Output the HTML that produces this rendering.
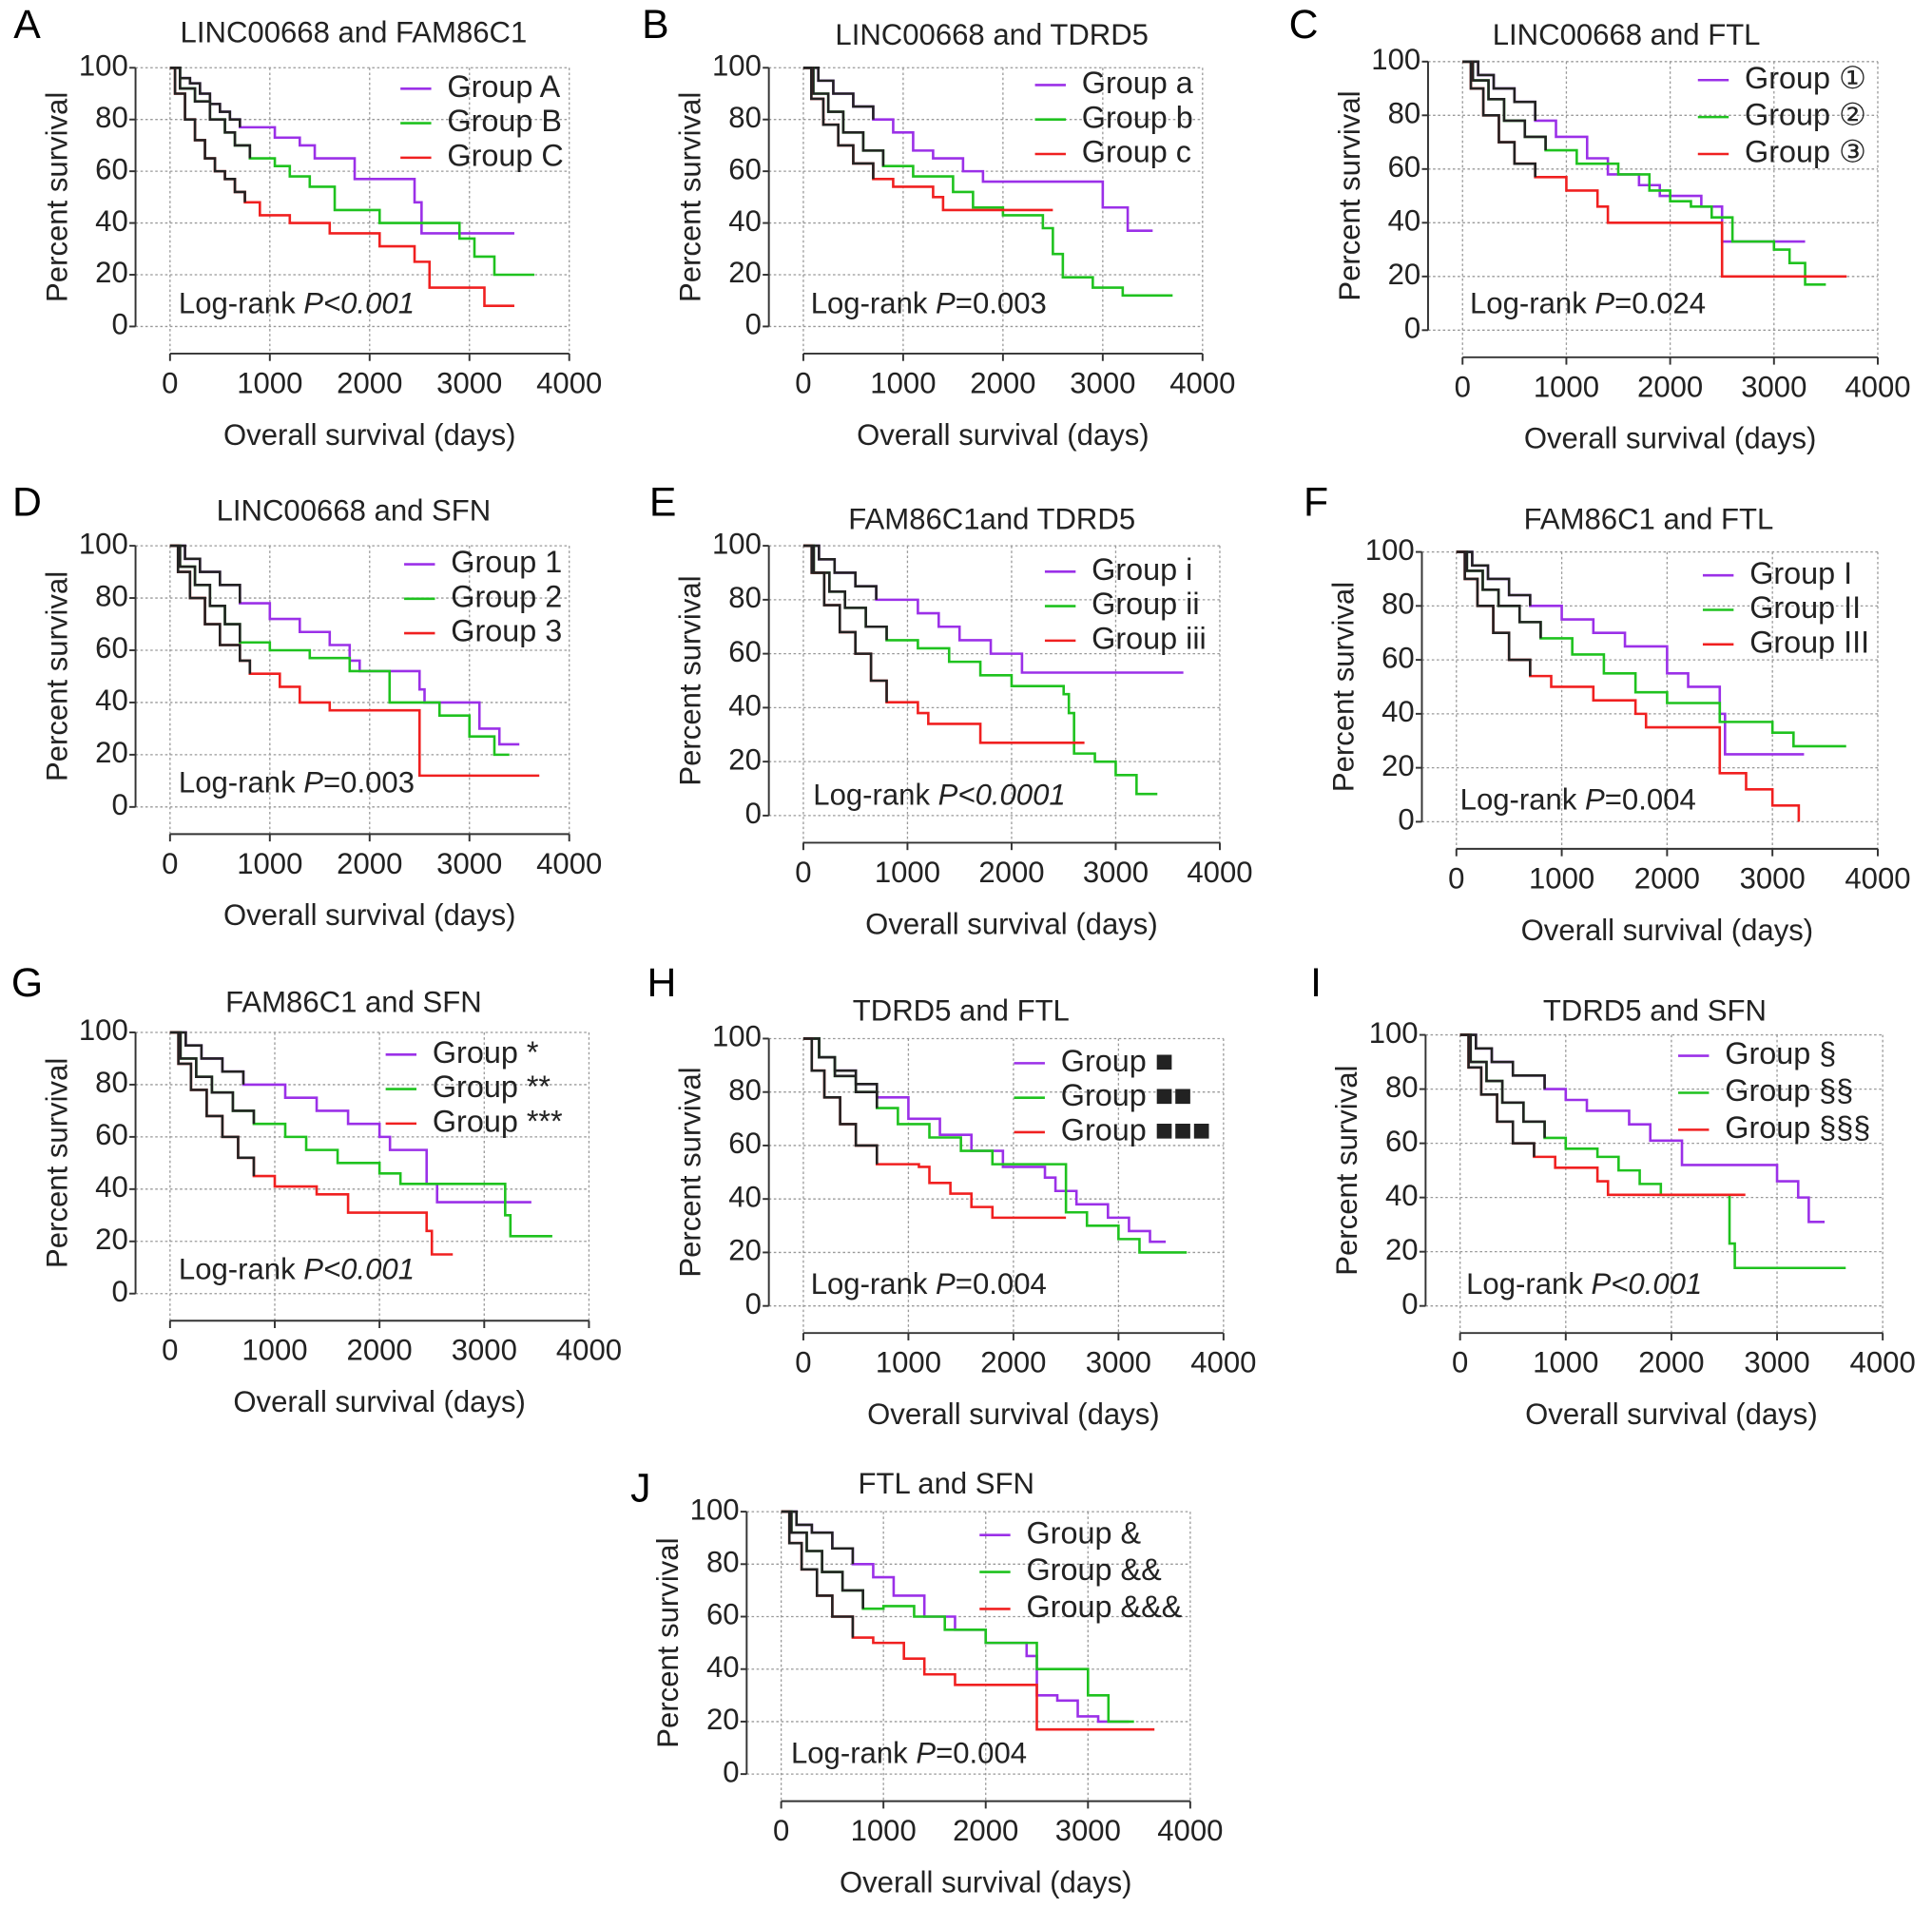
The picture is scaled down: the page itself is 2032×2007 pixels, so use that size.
<!DOCTYPE html>
<html><head><meta charset="utf-8"><style>
html,body{margin:0;padding:0;background:#fff}
svg{display:block}
text{font-family:"Liberation Sans","DejaVu Sans",sans-serif;fill:#222}
</style></head><body>
<svg id="fig" width="2032" height="2007" viewBox="0 0 1568 1548.7" xmlns="http://www.w3.org/2000/svg"></svg>
<script>
const xTicks=[0,1000,2000,3000,4000];
const yTicks=[0,20,40,60,80,100];
const panelLetters=["A","B","C","D","E","F","G","H","I","J"];
const panelTitles=["LINC00668 and FAM86C1","LINC00668 and TDRD5","LINC00668 and FTL","LINC00668 and SFN","FAM86C1and TDRD5","FAM86C1 and FTL","FAM86C1 and SFN","TDRD5 and FTL","TDRD5 and SFN","FTL and SFN"];
const groupLabels=[["Group A","Group B","Group C"],["Group a","Group b","Group c"],["Group \u2460","Group \u2461","Group \u2462"],["Group 1","Group 2","Group 3"],["Group i","Group ii","Group iii"],["Group I","Group II","Group III"],["Group *","Group **","Group ***"],["Group \u25A0","Group \u25A0\u25A0","Group \u25A0\u25A0\u25A0"],["Group \u00A7","Group \u00A7\u00A7","Group \u00A7\u00A7\u00A7"],["Group &","Group &&","Group &&&"]];
const pvals=[["P<0.001",true],["P=0.003",false],["P=0.024",false],["P=0.003",false],["P<0.0001",true],["P=0.004",false],["P<0.001",true],["P=0.004",false],["P<0.001",true],["P=0.004",false]];
const purpleDays=[[0,100,200,300,400,500,600,700,1050,1300,1450,1850,2450,2520,3450],[0,150,300,500,700,900,1100,1300,1600,1800,2700,3000,3250,3500],[0,150,300,500,700,900,1200,1400,1700,1900,2300,2500,3300],[0,150,300,500,700,1000,1300,1600,1800,1900,2500,2550,3100,3300,3500],[0,150,300,500,700,1100,1300,1500,1800,2100,2100,3650],[0,150,300,500,700,1000,1300,1600,2000,2200,2500,2550,3300],[0,150,300,500,700,1100,1400,1700,2000,2100,2450,2450,2550,3450],[0,150,300,500,700,1000,1300,1600,1900,2300,2400,2600,2900,3100,3300,3450],[0,150,300,500,800,1000,1200,1600,1800,2100,2800,3000,3200,3300,3450],[0,150,300,500,700,900,1100,1400,1700,2000,2400,2500,2700,2900,3100,3400]];
const purpleSurv=[[100,96,94,90,86,83,80,77,73,70,65,57,48,36,36],[100,95,90,85,80,75,68,65,60,56,56,46,37,37],[100,95,90,85,78,72,64,58,54,50,46,33,33],[100,95,90,85,78,72,67,62,56,52,45,40,30,24,24],[100,95,90,85,80,75,70,65,60,56,53,53],[100,95,90,84,80,75,70,65,55,50,40,25,25],[100,95,90,85,80,75,70,65,60,55,48,42,35,35],[100,93,88,83,78,70,64,58,52,48,43,38,33,28,24,24],[100,95,90,85,80,76,72,67,61,52,52,46,40,31,31],[100,95,92,86,80,75,68,60,55,50,45,30,28,22,20,20]];
const greenDays=[[0,100,250,400,550,650,800,1050,1200,1400,1650,2100,2750,2900,3050,3250,3650],[0,100,250,400,600,800,1100,1500,1700,2000,2400,2500,2600,2900,3200,3700],[0,100,250,400,600,800,1100,1500,1800,2000,2200,2400,2600,3000,3150,3300,3500],[0,100,250,400,550,700,1000,1400,1800,2200,2200,2700,3000,3250,3400],[0,100,250,400,600,800,1100,1400,1700,2000,2500,2550,2600,2800,3000,3200,3400],[0,100,250,400,600,800,1100,1400,1700,2000,2500,2800,3000,3200,3700],[0,100,250,400,600,800,1100,1300,1600,2000,2200,2600,3200,3250,3650],[0,150,300,500,700,900,1200,1500,1800,2500,2500,2700,3000,3200,3650],[0,100,250,400,600,800,1000,1300,1500,1700,1900,2500,2550,2600,3650],[0,100,250,400,600,800,1000,1300,1600,2000,2500,2500,2800,3000,3200,3450]];
const greenSurv=[[100,92,87,80,75,70,65,62,58,54,45,40,40,34,27,20,20],[100,90,83,75,68,62,58,52,46,43,38,28,19,15,12,12],[100,93,86,78,72,67,62,58,52,48,46,42,33,30,25,17,17],[100,92,85,77,70,63,60,57,52,45,40,35,27,20,20],[100,90,83,77,70,65,62,57,52,48,45,38,23,20,15,8,8],[100,93,86,80,74,68,62,55,48,44,37,37,33,28,28],[100,90,83,77,70,65,60,55,50,46,42,42,30,22,22],[100,93,86,80,74,68,63,58,53,53,35,30,25,20,20],[100,90,83,75,68,62,58,55,50,45,41,41,23,14,14],[100,92,85,77,70,63,64,60,55,50,50,40,40,30,20,20]];
const redDays=[[0,50,150,250,350,450,550,650,750,900,1200,1600,2100,2450,2600,3150,3450],[0,80,200,350,500,700,900,1300,1400,1700,2500],[0,80,200,350,500,700,1000,1300,1400,2500,3700],[0,80,200,350,500,700,800,1100,1300,1600,2500,3700],[0,80,200,350,500,650,800,1100,1200,1700,2700],[0,80,200,350,500,700,900,1300,1700,1800,2250,2500,2750,3000,3250],[0,80,200,350,500,650,800,1000,1400,1700,2200,2450,2500,2700],[0,80,200,350,500,700,1100,1200,1400,1600,1800,2500],[0,80,200,350,500,700,900,1300,1400,2700],[0,80,200,350,500,700,900,1200,1400,1700,2500,2500,3650]];
const redSurv=[[100,90,80,72,65,60,57,52,48,43,40,36,31,25,15,8,8],[100,88,78,70,63,57,54,50,45,45,45],[100,90,80,70,62,57,52,46,40,20,20],[100,90,80,70,62,56,51,46,40,37,12,12],[100,90,78,68,60,50,42,38,34,27,27],[100,90,80,70,60,54,50,45,40,35,35,18,12,6,0],[100,88,78,68,60,52,45,41,38,31,31,24,15,15],[100,88,78,68,60,53,52,46,42,37,33,33],[100,88,78,68,60,55,51,46,41,41],[100,88,78,68,60,52,50,44,38,34,34,17,17]];

const L=[[138,462,55,265],[652,976,55,265],[1187,1524,50,268],[138,462,443,655],[652,990,443,662],[1182,1524,448,667],[138,478,838,1050],[652,993,843,1060],[1185,1528,840,1060],[634,966,1227,1440]];
const titlePos=[[287,28],[805,30],[1320,30],[287,416],[805,423],[1338,423],[287,815],[780,822],[1343,822],[768,1206]];
const letterPos=[[22,22],[532,22],[1058,22],[22,410],[538,410],[1068,410],[22,800],[537,800],[1068,800],[520,1210]];
const legPos=[[325,72,28],[840,69,28],[1378,65,30],[328,458,28],[848,464,28],[1382,467,28],[313,856,28],[823,863,28],[1362,857,30],[795,1246,30]];
const pPos=[[145,248],[658,248],[1193,248],[145,637],[660,647],[1185,651],[145,1032],[658,1044],[1190,1044],[642,1425]];
const colors=["#9b30e8","#1fc21f","#f02020"];

const NS="http://www.w3.org/2000/svg";
const svg=document.getElementById("fig");
function mk(tag,attrs,parent,txt){const e=document.createElementNS(NS,tag);for(const k in attrs)e.setAttribute(k,attrs[k]);if(txt!==undefined)e.textContent=txt;parent.appendChild(e);return e;}

for(let p=0;p<10;p++){
  const [x0,x4,y100,y0]=L[p];
  const sx=d=>x0+(x4-x0)*d/4000;
  const sy=v=>y0+(y100-y0)*v/100;
  const g=mk("g",{},svg);
  
  
  const axX=x0-28, axY=y0+22;
  yTicks.forEach(v=>{const l=mk("line",{x1:axX,x2:x4,y1:sy(v),y2:sy(v),stroke:"#999","stroke-width":1,"stroke-dasharray":"2,2"},g);
    });
  xTicks.forEach(d=>{const l=mk("line",{x1:sx(d),x2:sx(d),y1:y100,y2:axY,stroke:"#999","stroke-width":1,"stroke-dasharray":"2,2"},g);
    });
  const ya=mk("line",{x1:axX,x2:axX,y1:y100,y2:y0,stroke:"#333","stroke-width":1.5},g);
  
  const xa=mk("line",{x1:x0,x2:x4,y1:axY,y2:axY,stroke:"#333","stroke-width":1.5},g);
  
  yTicks.forEach(v=>{mk("line",{x1:axX-5,x2:axX,y1:sy(v),y2:sy(v),stroke:"#333","stroke-width":1.5},g);
    const t=mk("text",{x:axX-6,y:sy(v),"font-size":24,"text-anchor":"end","dominant-baseline":"middle"},g,String(v));
    });
  xTicks.forEach(d=>{mk("line",{x1:sx(d),x2:sx(d),y1:axY,y2:axY+6,stroke:"#333","stroke-width":1.5},g);
    const t=mk("text",{x:sx(d),y:axY+32,"font-size":24,"text-anchor":"middle"},g,String(d));
    });
  const xl=mk("text",{x:(x0+x4)/2,y:axY+74,"font-size":24,"text-anchor":"middle"},g,"Overall survival (days)");
  
  const ylx=axX-62, yly=(y100+y0)/2;
  const yl=mk("text",{x:ylx,y:yly,"font-size":24,"text-anchor":"middle","dominant-baseline":"middle",transform:`rotate(-90 ${ylx} ${yly})`},g,"Percent survival");
  
  const ti=mk("text",{x:titlePos[p][0],y:titlePos[p][1],"font-size":24,"text-anchor":"middle","dominant-baseline":"middle"},g,panelTitles[p]);
  
  const le=mk("text",{x:letterPos[p][0],y:letterPos[p][1],"font-size":33,"text-anchor":"middle","dominant-baseline":"middle",style:"fill:#000"},g,panelLetters[p]);
  
  const D=[purpleDays[p],greenDays[p],redDays[p]], S=[purpleSurv[p],greenSurv[p],redSurv[p]];
  for(let k=0;k<3;k++){
    let d="M"+sx(D[k][0])+","+sy(S[k][0]);
    let db="M"+sx(D[k][0])+","+sy(S[k][0]);
    for(let i=1;i<D[k].length;i++){
      d+=" H"+sx(D[k][i])+" V"+sy(S[k][i]);
      if(D[k][i]<=800) db+=" H"+sx(D[k][i])+" V"+sy(S[k][i]);
    }
    const path=mk("path",{d:d,fill:"none",stroke:colors[k],"stroke-width":2},g);
    
    
    const bp=mk("path",{d:db,fill:"none",stroke:"#222","stroke-width":2},g);
    
    
    const [lx,ly,ls]=legPos[p];
    const yy=ly+ls*k;
    const ll=mk("line",{x1:lx,x2:lx+25,y1:yy,y2:yy,stroke:colors[k],"stroke-width":2},g);
    
    const lt=mk("text",{x:lx+38,y:yy,"font-size":25,"dominant-baseline":"middle"},g,groupLabels[p][k]);
    
  }
  const pt=mk("text",{x:pPos[p][0],y:pPos[p][1],"font-size":24,"dominant-baseline":"middle"},g);
  
  mk("tspan",{},pt,"Log-rank ");
  mk("tspan",{"font-style":"italic"},pt,"P");
  mk("tspan",pvals[p][1]?{"font-style":"italic"}:{},pt,pvals[p][0].slice(1));
}
</script>
</body></html>
